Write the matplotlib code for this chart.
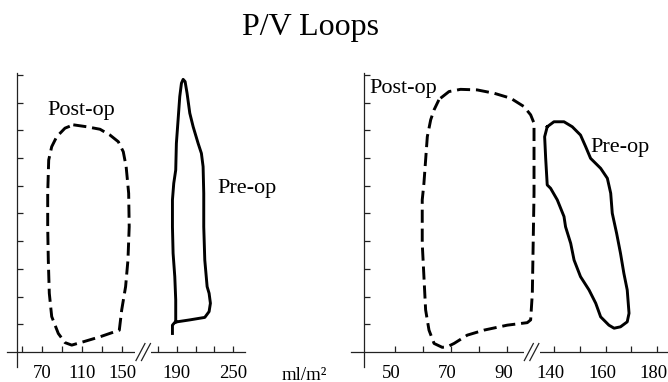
"""
P/V Loops -- 术前/术后压力-容积环
"""
import numpy as np
from matplotlib import pyplot as plt
from matplotlib.transforms import ScaledTranslation

# 左图：容积 (ml/m2) 与压力
left_post_v = [101.3, 114.7, 128.0, 138.0, 146.3, 150.7, 152.3, 153.7, 154.0, 153.3, 152.0, 149.7,
               147.3, 128.0, 111.3, 99.7, 93.0, 86.3, 79.7, 77.3, 76.3, 75.7, 75.7, 76.7, 79.7, 84.7,
               93.0, 101.3]
left_post_p = [82.0, 81.3, 80.4, 78.3, 75.9, 72.3, 66.9, 57.3, 45.2, 33.2, 23.6, 15.2,
               7.9, 5.5, 3.7, 2.5, 3.4, 6.7, 12.8, 21.2, 33.2, 45.2, 57.3, 69.3, 74.1, 77.7,
               80.8, 82.0]
left_pre_v = [185.4, 185.4, 188.2, 203.9, 219.9, 224.5, 225.9, 224.5, 222.4, 219.9, 218.8, 218.8,
              218.1, 216.3, 212.8, 207.5, 203.9, 201.0, 198.9, 196.8, 195.0, 193.2, 191.4, 189.6,
              188.9, 186.8, 185.4, 185.4, 186.1, 187.9, 188.9, 188.9]
left_pre_p = [6.7, 9.7, 10.8, 11.6, 12.5, 14.6, 17.6, 21.2, 23.6, 33.2, 45.2, 57.3,
              66.9, 71.7, 75.3, 81.3, 86.2, 93.4, 97.6, 98.4, 97.0, 92.2, 83.7, 75.3,
              65.7, 60.9, 54.9, 45.2, 35.6, 27.2, 18.8, 10.9]

# 右图
right_post_v = [66.3, 69.3, 73.4, 79.3, 85.3, 91.2, 95.9, 98.3, 99.5, 99.5, 99.5, 99.2, 98.9, 98.3,
                97.1, 90.0, 81.7, 75.8, 71.1, 68.7, 66.9, 64.0, 62.2, 61.0, 60.4, 59.8, 59.8, 60.4,
                61.0, 61.6, 62.8, 64.0, 65.7]
right_post_p = [91.6, 94.0, 94.8, 94.6, 93.4, 91.6, 88.6, 85.6, 82.6, 75.3, 57.3, 39.2, 21.2, 11.6,
                10.6, 9.7, 7.9, 6.1, 3.1, 1.9, 1.7, 3.1, 7.9, 15.2, 27.2, 39.2, 54.9, 60.9,
                69.3, 77.7, 83.8, 87.4, 91.0]
right_pre_v = [137.4, 140.0, 143.9, 147.1, 150.3, 152.3, 154.2, 158.1, 160.7, 162.0, 162.6, 164.3,
               165.8, 167.1, 168.4, 169.1, 168.4, 165.8, 163.3, 161.3, 158.1, 156.2, 153.6, 150.3,
               147.8, 146.5, 144.5, 143.9, 141.3, 138.7, 137.4, 136.8, 136.4, 137.4]
right_pre_p = [81.3, 83.1, 83.1, 81.3, 78.3, 74.1, 69.9, 66.3, 62.7, 57.3, 50.1, 42.8,
               35.6, 28.4, 22.4, 14.0, 10.9, 9.1, 8.6, 9.7, 12.7, 17.6, 22.4, 27.2,
               33.2, 39.2, 45.2, 48.9, 54.9, 59.1, 60.3, 69.9, 77.7, 81.3]

left_ticks = [50, 70, 90, 110, 130, 150, 170, 190, 210, 230, 250]
left_labels = ['', '70', '', '110', '', '150', '', '190', '', '', '250']
right_ticks = [50, 60, 70, 80, 90, 140, 150, 160, 170, 180]
right_labels = ['50', '', '70', '', '90', '140', '', '160', '', '180']
p_ticks = [10, 20, 30, 40, 50, 60, 70, 80, 90, 100]

plt.rcParams['font.family'] = 'Liberation Serif'
AX_COLOR = '#222222'


def broken(vs, us):
    # 分段线性刻度，模拟断轴
    return (lambda v: np.interp(v, vs, us), lambda u: np.interp(u, us, vs))


def break_mark(ax, vb):
    # 轴上的 "//" 断裂符号（英寸偏移）
    tr = fig.dpi_scale_trans + ScaledTranslation(vb, 0, ax.transData)
    ax.plot([-0.085, 0.075], [0, 0], transform=tr, color='white', lw=3,
            clip_on=False, zorder=3, solid_capstyle='butt')
    for dx in (-0.035, 0.02):
        ax.plot([dx - 0.045, dx + 0.045], [-0.085, 0.085], transform=tr,
                color=AX_COLOR, lw=0.9, clip_on=False, zorder=4)


def setup(ax, scale, xlim, yaxis_at, ticks, labels, brk):
    ax.set_xscale('function', functions=scale)
    ax.set_xlim(*xlim)
    ax.set_ylim(-5.4, 100.7)
    for s in ['top', 'right']:
        ax.spines[s].set_visible(False)
    ax.spines['left'].set_position(('data', yaxis_at))
    ax.spines['bottom'].set_position(('data', 0))
    for s in ['left', 'bottom']:
        ax.spines[s].set_color(AX_COLOR)
        ax.spines[s].set_linewidth(0.9)
    ax.set_xticks(ticks)
    ax.set_xticklabels(labels)
    ax.set_yticks(p_ticks)
    ax.set_yticklabels([])
    ax.minorticks_off()
    ax.tick_params(direction='in', length=4, width=0.9, color=AX_COLOR,
                   labelsize=13.5, pad=9)
    ax.patch.set_visible(False)
    break_mark(ax, brk)


fig = plt.figure(figsize=(6.68, 3.82), dpi=100)

ax1 = fig.add_axes([7 / 668, 15 / 382, 238 / 668, 294 / 382])
setup(ax1, broken([0, 150, 170, 400], [-28, 122, 158, 373.6]), (35, 262.8), 45,
      left_ticks, left_labels, 162.2)
ax1.plot(left_post_v, left_post_p, color='black', lw=2.1, ls=(0, (4.5, 2.0)))
ax1.plot(left_pre_v, left_pre_p, color='black', lw=2.1)
ax1.text(75, 85.6, 'Post-op', fontsize=16)
ax1.text(233.7, 57.4, 'Pre-op', fontsize=16)

ax2 = fig.add_axes([351 / 668, 15 / 382, 317 / 668, 294 / 382])
setup(ax2, broken([0, 100, 135, 300], [254, 535.5, 541.1, 966.8]), (34.5, 184.2), 39.1,
      right_ticks, right_labels, 98.9)
ax2.plot(right_post_v, right_post_p, color='black', lw=2.1, ls=(0, (4.5, 2.0)))
ax2.plot(right_pre_v, right_pre_p, color='black', lw=2.1)
ax2.text(40.9, 93.4, 'Post-op', fontsize=16)
ax2.text(154.3, 72.3, 'Pre-op', fontsize=16)
# 右图刻度文字略向左
for lab in ax2.get_xticklabels():
    lab.set_transform(lab.get_transform() + ScaledTranslation(-0.035, 0, fig.dpi_scale_trans))

fig.text(282 / 668, 1 - 375 / 382, 'ml/m²', fontsize=13.5, va='center')
fig.text(311 / 668, 1 - 35 / 382, 'P/V Loops', fontsize=23, ha='center', va='baseline')

plt.savefig('out.png', dpi=100)
